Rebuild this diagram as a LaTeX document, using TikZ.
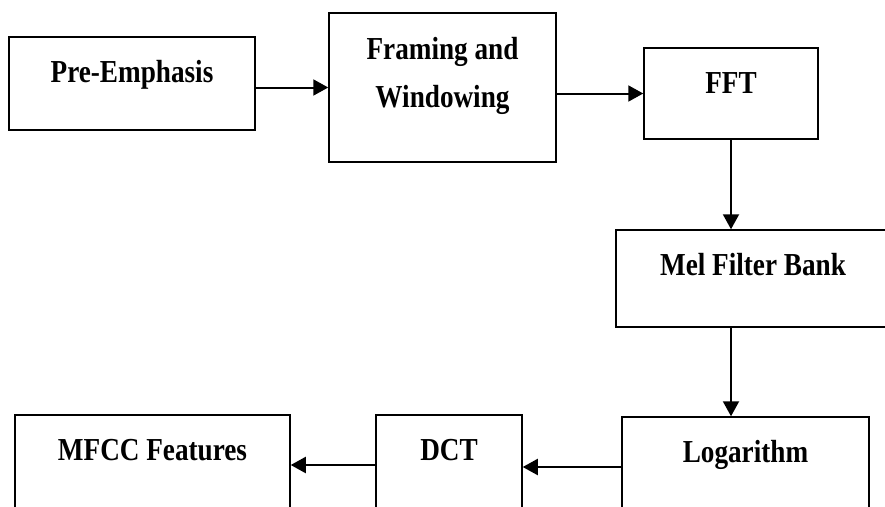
\documentclass[tikz,border=0pt]{standalone}
\usepackage{fontspec}
\newfontfamily\boxfont[FakeStretch=0.85]{Liberation Serif}
\usetikzlibrary{arrows.meta}

\begin{document}
\begin{tikzpicture}[x=1pt, y=-1pt, -{Triangle[length=15pt, width=16pt]}, line width=2pt,
    stage/.style={draw, rectangle, line width=1.5pt, inner sep=0pt, text height=45pt,
      font=\boxfont\bfseries\fontsize{32}{38}\selectfont}]
    \useasboundingbox (0,0) rectangle (885,506);

    % Define stages
    \node[stage, minimum width=246pt, text depth=48pt] (pre) at (132,83.5) {Pre-Emphasis};
    \node[stage, minimum width=227pt, text height=94pt, text depth=55pt, align=center] (frame) at (442.5,87.5) {Framing and\\[10pt]Windowing};
    \node[stage, minimum width=174pt, text depth=46pt] (fft) at (731,93.5) {FFT};
    \node[stage, minimum width=274pt, text depth=52pt] (mel) at (753,278.5) {Mel Filter Bank};
    \node[stage, minimum width=247pt, text depth=55pt] (log) at (745.5,467) {Logarithm};
    \node[stage, minimum width=146pt, text depth=55pt] (dct) at (449,465) {DCT};
    \node[stage, minimum width=275pt, text depth=55pt] (mfcc) at (152.5,465) {MFCC Features};

    % Transitions between stages
    \draw (pre.east |- frame.west) -- (frame.west);
    \draw (frame.east |- fft.west) -- (fft.west);
    \draw (fft.south) -- (mel.north -| fft.south);
    \draw (mel.south -| fft.south) -- (log.north -| fft.south);
    \draw (log.west) -- (log.west -| dct.east);
    \draw (dct.west) -- (dct.west -| mfcc.east);

    \end{tikzpicture}
\end{document}
